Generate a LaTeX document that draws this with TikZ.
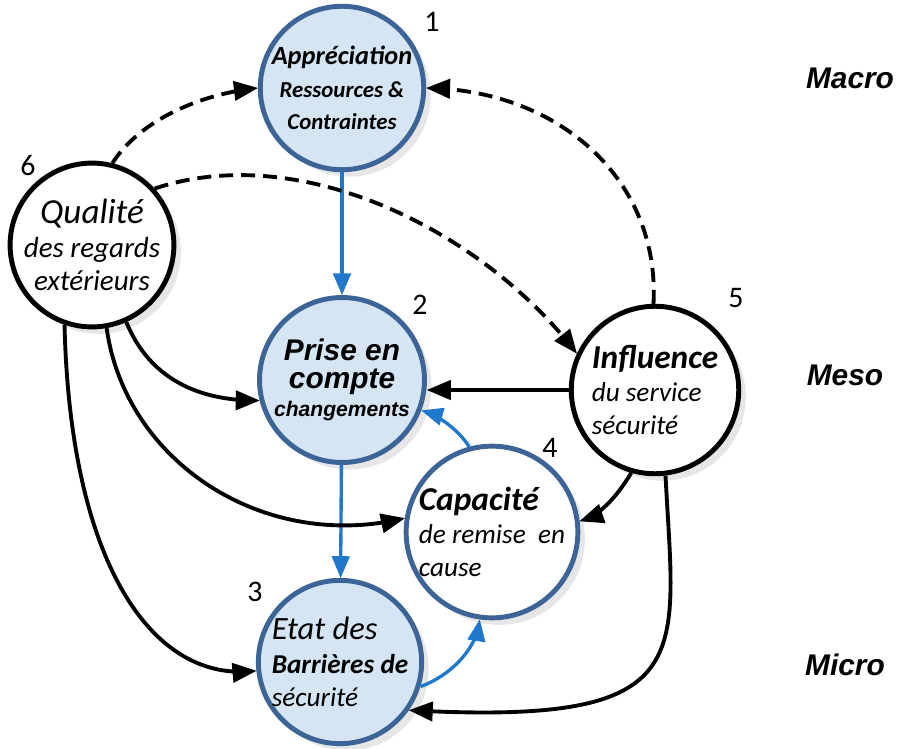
\documentclass[tikz,border=0pt]{standalone}
\usepackage{fontspec}
\setmainfont{Carlito}
\newfontfamily\arialfont{Liberation Sans}
\usetikzlibrary{arrows,shadows}
\definecolor{bordure}{HTML}{3C6496}
\definecolor{bleuclair}{HTML}{D5E5F3}
\definecolor{fleche}{HTML}{1F78CC}
\tikzset{
  cercle/.style={circle, line width=2.8pt, inner sep=0pt, minimum size=#1,
    drop shadow={opacity=0.2, shadow xshift=4pt, shadow yshift=-4pt},
    font=\fontsize{15.5}{19}\selectfont\itshape},
  bleu/.style={cercle=#1, draw=bordure, fill=bleuclair},
  blanc/.style={cercle=#1, draw=bordure, fill=white},
  noir/.style={cercle=#1, draw=black, fill=white},
  numero/.style={font=\fontsize{17}{20}\selectfont},
  niveau/.style={font=\fontsize{17}{20}\selectfont\arialfont\bfseries\itshape},
  liaison/.style={-triangle 45, line width=2.2pt},
  pointille/.style={liaison, dash pattern=on 8pt off 4.5pt},
  bleue/.style={liaison, line width=1.9pt, draw=fleche}
}
\begin{document}
\begin{tikzpicture}[x=0.02cm, y=-0.02cm]
\useasboundingbox (0,0) rectangle (898,749);
\node[bleu=3.2cm, align=center, font=\fontsize{13}{18.5}\selectfont\itshape] (appr) at (342,88) {{\bfseries\fontsize{15}{18}\selectfont Appréciation}\\ \bfseries Ressources \&\\ \bfseries Contraintes};
\node[bleu=3.3cm, align=center, font=\fontsize{12}{16}\selectfont\arialfont\itshape] (prise) at (342,380) {{\bfseries\fontsize{17}{20}\selectfont Prise en}\\ {\bfseries\fontsize{17}{20}\selectfont compte}\\ \bfseries changements};
\node[bleu=3.25cm, align=left] (etat) at (340,662) {{\fontsize{18.5}{20}\selectfont Etat des}\\ \bfseries Barrières de\\ sécurité};
\node[blanc=3.15cm, align=left] (capa) at (492,532) {{\bfseries\fontsize{19}{20}\selectfont Capacité}\\ de remise\ \ en\\ cause};
\node[noir=3.35cm, align=left] (infl) at (655,390) {{\bfseries\fontsize{19}{20}\selectfont Influence}\\ du service\\ sécurité};
\node[noir=3.2cm, align=center, font=\fontsize{16.5}{19}\selectfont\itshape] (qual) at (92,245) {{\fontsize{20}{20}\selectfont Qualité}\\ des regards\\ extérieurs};
\node[numero] (n1) at (432,22) {1};
\node[numero] (n2) at (420,305) {2};
\node[numero] (n3) at (255,592) {3};
\node[numero] (n4) at (550,448) {4};
\node[numero] (n5) at (736,298) {5};
\node[numero] (n6) at (28,166) {6};
\node[niveau] (macro) at (850,78) {Macro};
\node[niveau] (meso) at (845,375) {Meso};
\node[niveau] (micro) at (845,665) {Micro};
\draw[bleue] (appr) -- (prise);
\draw[bleue] (prise) -- (etat);
\draw[bleue] (capa.105) .. controls (460,432) and (440,416) .. (prise.-21);
\draw[bleue] (etat.-17) .. controls (450,676) and (475,650) .. (capa.-98);
\draw[pointille] (qual.76) .. controls (140,120) and (200,95) .. (appr.west);
\draw[pointille] (infl.91) .. controls (660,180) and (560,92) .. (appr.east);
\draw[pointille] (qual.42) .. controls (300,140) and (480,230) .. (infl.155);
\draw[liaison] (infl.west) -- (prise.east |- infl.west);
\draw[liaison] (infl.-106) .. controls (615,500) and (598,515) .. (capa.7);
\draw[liaison] (infl.-83) .. controls (675,660) and (700,725) .. (etat.-35);
\draw[liaison] (qual.-66) .. controls (150,380) and (200,400) .. (prise.194);
\draw[liaison] (qual.-80) .. controls (125,460) and (260,550) .. (capa.171);
\draw[liaison] (qual.-109) .. controls (70,560) and (150,680) .. (etat.186);
\end{tikzpicture}
\end{document}
